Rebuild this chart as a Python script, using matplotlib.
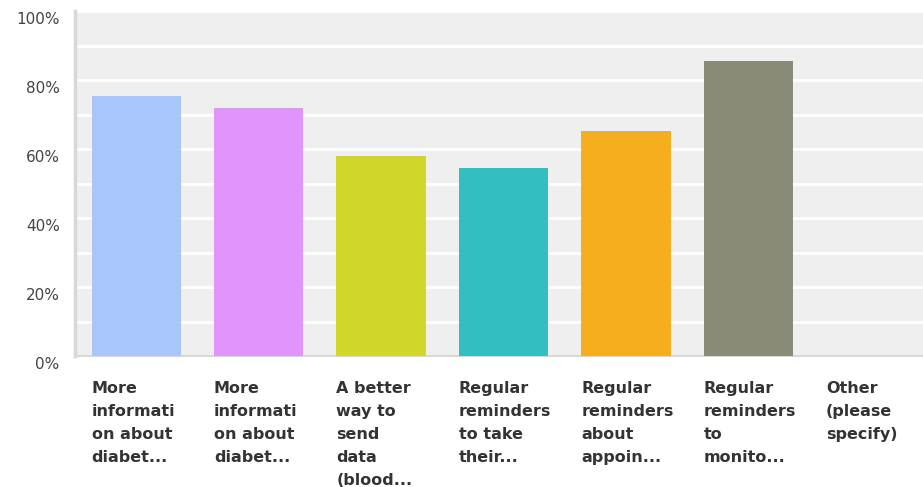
import matplotlib.pyplot as plt
import matplotlib.transforms as mtransforms
from matplotlib.ticker import FuncFormatter, MultipleLocator

categories = [
    "More\ninformati\non about\ndiabet...",
    "More\ninformati\non about\ndiabet...",
    "A better\nway to\nsend\ndata\n(blood...",
    "Regular\nreminders\nto take\ntheir...",
    "Regular\nreminders\nabout\nappoin...",
    "Regular\nreminders\nto\nmonito...",
    "Other\n(please\nspecify)",
]
values = [75.4, 71.9, 58.0, 54.5, 65.2, 85.5, 0.0]
colors = ["#a8c6fa", "#e195fa", "#d0d72a", "#33bec1", "#f6ae1f", "#898a78", "#cccccc"]

plt.rcParams['font.family'] = ['DejaVu Sans']

W, H = 923, 487
fig = plt.figure(figsize=(W / 100, H / 100), dpi=100)
# plot area runs a little past the right edge of the figure
ax = fig.add_axes([75 / W, (H - 356) / H, 857 / W, 345 / H])
ax.set_facecolor("#efefef")

x = list(range(len(categories)))
bar_w = 0.73
ax.bar(x, values, width=bar_w, color=colors, zorder=3)

ax.set_xlim(-0.5, len(categories) - 0.5)
ax.set_ylim(0, 100)

# white grid every 10%, labels every 20%
ax.yaxis.set_minor_locator(MultipleLocator(10))
ax.yaxis.set_major_locator(MultipleLocator(20))
ax.grid(axis="y", which="both", color="white", linewidth=2, zorder=1)
ax.yaxis.set_major_formatter(FuncFormatter(lambda v, p: f"{int(v)}%"))
ax.tick_params(axis="y", which="both", length=0, pad=11, labelsize=11, labelcolor="#444444")
ax.tick_params(axis="x", length=0, labelbottom=False)

shift = mtransforms.ScaledTranslation(0, -7 / 100, fig.dpi_scale_trans)
for lab in ax.get_yticklabels():
    lab.set_transform(lab.get_transform() + shift)

for side in ["top", "right"]:
    ax.spines[side].set_visible(False)
ax.spines["left"].set_color("#d8d8d8")
ax.spines["left"].set_linewidth(2.5)
ax.spines["bottom"].set_color("#d8d8d8")
ax.spines["bottom"].set_linewidth(1.5)

# wrapped category labels, left aligned under each bar
for xi, label in zip(x, categories):
    ax.annotate(label, xy=(xi - bar_w / 2, 0), xycoords=("data", "axes fraction"),
                xytext=(0, -25), textcoords="offset pixels",
                ha="left", va="top", fontsize=11.5, fontweight="bold",
                color="#333333", linespacing=1.66)

fig.savefig("out.png", dpi=100, facecolor="white")
